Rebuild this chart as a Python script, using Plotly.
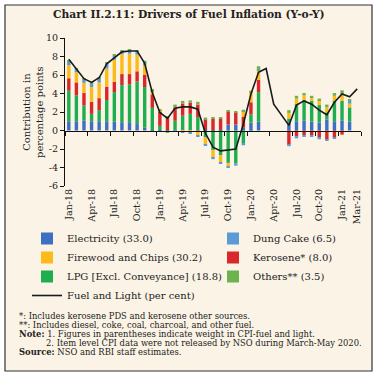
import plotly.graph_objects as go

months = ["Jan-18","Feb-18","Mar-18","Apr-18","May-18","Jun-18","Jul-18","Aug-18","Sep-18","Oct-18","Nov-18","Dec-18",
          "Jan-19","Feb-19","Mar-19","Apr-19","May-19","Jun-19","Jul-19","Aug-19","Sep-19","Oct-19","Nov-19","Dec-19",
          "Jan-20","Feb-20","Mar-20","Apr-20","May-20","Jun-20","Jul-20","Aug-20","Sep-20","Oct-20","Nov-20","Dec-20",
          "Jan-21","Feb-21","Mar-21"]

electricity = [1.0,1.0,1.1,1.0,1.0,1.0,0.95,0.9,0.9,0.7,0.3,0.05,
               0.05,0.05,0.05,0.05,0.05,0.05,0.1,0.05,0.1,0.65,0.65,0.3,
               0.85,0.95,None,None,None,0.9,1.0,1.1,0.95,0.85,1.2,1.0,1.1,0.95,None]
lpg = [3.3,2.8,1.6,0.8,1.2,2.3,3.2,4.0,4.1,4.6,4.4,2.4,
       0.45,-0.25,1.0,1.55,1.75,1.4,-0.75,-2.1,-2.65,-3.5,-3.55,-1.35,
       0.9,3.2,None,None,None,0.4,1.85,2.2,2.25,1.9,0.75,2.2,2.1,1.55,None]
kerosene = [1.35,1.4,1.35,1.3,1.3,1.45,1.1,1.2,1.1,1.1,1.35,1.45,
            1.6,1.35,1.45,1.3,1.2,1.35,1.1,1.2,1.2,1.4,1.3,1.2,
            1.3,1.35,None,None,None,-1.55,-0.6,-0.5,-0.5,-0.75,-1.0,-0.8,-0.45,0.0,None]
firewood = [1.4,1.1,1.1,1.6,1.7,1.95,2.4,2.15,2.2,1.8,1.0,0.35,
            0.1,0.0,0.0,-0.1,-0.2,-0.5,-0.75,-0.85,-0.8,-0.35,0.0,0.6,
            1.0,1.0,None,None,None,0.6,0.6,0.5,0.35,0.5,0.55,0.55,0.75,0.4,None]
dung_cake = [0.45,0.35,0.35,0.4,0.45,0.5,0.45,0.35,0.35,0.35,0.35,0.05,
             0.0,0.0,-0.1,-0.15,-0.1,-0.1,-0.1,-0.15,-0.1,-0.15,-0.25,-0.25,
             -0.15,0.1,None,None,None,-0.15,-0.25,-0.15,-0.15,-0.2,-0.1,-0.1,0.1,0.3,None]
others = [0.1,0.1,0.1,0.1,0.1,0.1,0.1,0.1,0.1,0.1,0.15,0.2,
          0.1,0.1,0.3,0.3,0.25,0.3,0.2,0.2,0.15,0.15,0.15,0.15,
          0.25,0.35,None,None,None,0.3,0.3,0.25,0.2,0.2,0.3,0.3,0.3,0.2,None]
fuel_light = [7.7,6.6,5.6,5.2,5.7,7.2,7.9,8.5,8.6,8.6,7.25,4.1,
              1.95,1.3,2.4,2.55,2.55,2.3,-0.3,-1.8,-2.2,-2.1,-2.0,0.7,
              3.95,6.3,6.7,2.85,1.65,0.55,2.75,3.2,2.85,2.2,1.7,3.05,3.95,3.65,4.5]

xtick_labels = ["Jan-18","Apr-18","Jul-18","Oct-18","Jan-19","Apr-19","Jul-19","Oct-19",
                "Jan-20","Apr-20","Jul-20","Oct-20","Jan-21","Mar-21"]
ytick_vals = [10, 8, 6, 4, 2, 0, -2, -4, -6]
ytick_text = ["10", "8", "6", "4", "2", "0", "-2", "-4", "-6"]

FONT = "DejaVu Serif"
BG = "#fbf4e6"

# plot area pixel geometry
L, R, T, B = 65, 361, 38, 186
W, H = 378, 379
def px(x): return (x - L) / (R - L)
def py(y): return (B - y) / (B - T)

# name, values, colour, legend column, rank within column
series = [
    ("Electricity (33.0)", electricity, "#3d6fc2", "legend", 1),
    ("LPG [Excl. Conveyance] (18.8)", lpg, "#1fae4f", "legend", 3),
    ("Kerosene* (8.0)", kerosene, "#d9282b", "legend2", 2),
    ("Firewood and Chips (30.2)", firewood, "#fdbb1a", "legend", 2),
    ("Dung Cake (6.5)", dung_cake, "#5b9bd5", "legend2", 1),
    ("Others** (3.5)", others, "#6cb350", "legend2", 3),
]

fig = go.Figure()
for name, vals, col, leg, rank in series:
    fig.add_trace(go.Bar(x=months, y=vals, name=name, marker=dict(color=col, line=dict(width=0)),
                         legend=leg, legendrank=rank))
fig.add_trace(go.Scatter(x=months, y=fuel_light, name="Fuel and Light (per cent)", mode="lines",
                         line=dict(color="#1a1a1a", width=1.6), legend="legend", legendrank=4))

n = len(months)
leg_common = dict(orientation="v", xanchor="left", yanchor="top", bgcolor="rgba(0,0,0,0)",
                  font=dict(size=10, family=FONT, color="#222"), traceorder="normal", tracegroupgap=0)
fig.update_layout(
    width=W, height=H,
    margin=dict(l=L, r=W - R, t=T, b=H - B, pad=0),
    paper_bgcolor="white", plot_bgcolor="rgba(0,0,0,0)",
    barmode="relative", bargap=0.55,
    font=dict(family=FONT, color="#222", size=9.5),
    showlegend=True,
    legend=dict(x=px(27), y=py(224), **leg_common),
    legend2=dict(x=px(213), y=py(224), **leg_common),
    xaxis=dict(type="category", range=[-0.5, n - 0.5], tickvals=xtick_labels, ticktext=xtick_labels,
               tickangle=-90, ticks="", showline=False, showgrid=False, zeroline=False,
               tickfont=dict(size=9.5, family=FONT)),
    xaxis2=dict(overlaying="x", anchor="free", position=0.375, range=[-0.5, n - 0.5],
                tickvals=[i - 0.5 for i in range(0, n, 3)] + [n - 0.5], ticks="outside", ticklen=4,
                tickcolor="#111", showticklabels=False, showline=True, linecolor="#111", linewidth=1.3,
                showgrid=False, zeroline=False),
    yaxis=dict(range=[-6, 10], tickvals=ytick_vals, ticktext=ytick_text, ticks="outside", ticklen=4,
               tickcolor="#111", showline=True, linecolor="#111", linewidth=1.2, showgrid=False,
               zeroline=False, tickfont=dict(size=9.5, family=FONT)),
)

# invisible trace to register the free zero-line axis
fig.add_trace(go.Scatter(x=[0], y=[0], xaxis="x2", yaxis="y", mode="markers",
                         marker=dict(opacity=0), showlegend=False, hoverinfo="skip"))

fig.add_shape(type="rect", xref="paper", yref="paper", x0=px(5), x1=px(372), y0=py(371), y1=py(5),
              fillcolor=BG, line=dict(color="#333", width=1.2), layer="below")

ann = []
ann.append(dict(text="<b>Chart II.2.11: Drivers of Fuel Inflation (Y-o-Y)</b>", x=px(189), y=py(15),
                xanchor="center", yanchor="middle", font=dict(size=10.7, family=FONT, color="#222")))
ann.append(dict(text="Contribution in<br>percentage points", x=px(33), y=py(112), textangle=-90,
                xanchor="center", yanchor="middle", font=dict(size=10, family=FONT, color="#222")))
notes = [
    ("*: Includes kerosene PDS and kerosene other sources.", 17, 316),
    ("**: Includes diesel, coke, coal, charcoal, and other fuel.", 17, 325),
    ("<b>Note:</b> 1. Figures in parentheses indicate weight in CPI-fuel and light.", 17, 334),
    ("2. Item level CPI data were not released by NSO during March-May 2020.", 44, 343),
    ("<b>Source:</b> NSO and RBI staff estimates.", 17, 352),
]
for t, x, y in notes:
    ann.append(dict(text=t, x=px(x), y=py(y), xanchor="left", yanchor="middle",
                    font=dict(size=8.4, family=FONT, color="#222")))
for a in ann:
    a.update(xref="paper", yref="paper", showarrow=False)
fig.update_layout(annotations=ann)

fig.write_html("out.html", config={"displayModeBar": False},
               post_script="document.body.style.margin='0';document.body.style.overflow='hidden';")
